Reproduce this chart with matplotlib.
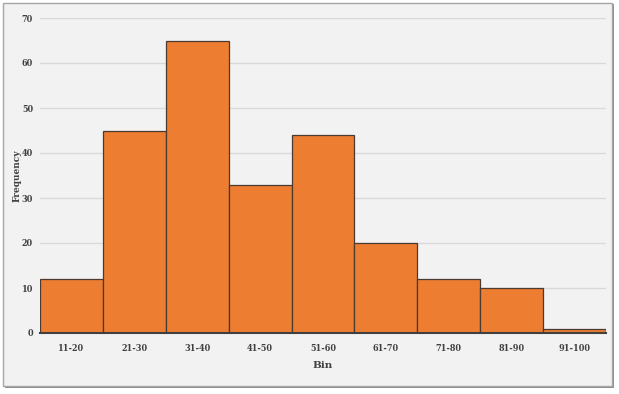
import matplotlib.pyplot as plt
from matplotlib.patches import Rectangle
import numpy as np

bins = ['11-20', '21-30', '31-40', '41-50', '51-60', '61-70', '71-80', '81-90', '91-100']
freq = [12, 45, 65, 33, 44, 20, 12, 10, 1]

W, H = 619, 394
fig = plt.figure(figsize=(W / 100, H / 100), dpi=100)
fig.patch.set_facecolor('white')

# chart frame with a little shadow on the right/bottom
fig.patches.append(Rectangle((5 / W, 1 - 388 / H), 609 / W, 384 / H, transform=fig.transFigure,
                             facecolor='#8c8c8c', edgecolor='none', zorder=-3))
fig.patches.append(Rectangle((3 / W, 1 - 386 / H), 609 / W, 383 / H, transform=fig.transFigure,
                             facecolor='#f2f2f2', edgecolor='#a6a6a6', linewidth=1, zorder=-2))

ax = fig.add_axes([40 / W, 1 - 333 / H, 566 / W, 315 / H])
ax.set_facecolor('none')

x = np.arange(len(bins))
ax.bar(x, freq, width=1.0, color='#ed7d31', edgecolor='#4a3a30', linewidth=0.9, zorder=3)

ax.set_xlim(-0.5, len(bins) - 0.5)
ax.set_ylim(0, 70)
ax.set_yticks(range(0, 71, 10))
ax.set_xticks(x)
ax.set_xticklabels(bins)

ax.grid(axis='y', color='#d9d9d9', linewidth=1, zorder=0)
for s in ['top', 'right', 'left']:
    ax.spines[s].set_visible(False)
ax.spines['bottom'].set_color('#404040')
ax.spines['bottom'].set_linewidth(1.5)
ax.spines['bottom'].set_zorder(4)
ax.tick_params(axis='x', length=0, pad=8, labelsize=6.5, labelcolor='#404040')
ax.tick_params(axis='y', length=0, pad=5, labelsize=6.5, labelcolor='#404040')
for lab in ax.get_xticklabels() + ax.get_yticklabels():
    lab.set_family('DejaVu Serif')
    lab.set_weight('bold')
    lab.set_stretch('condensed')

ax.set_xlabel('Bin', fontsize=7.5, fontweight='bold', family='DejaVu Serif', color='#404040', labelpad=6)
ax.set_ylabel('Frequency', fontsize=6.5, fontweight='bold', family='DejaVu Serif', color='#404040')
ax.yaxis.set_label_coords(-0.033, 0.5)

fig.savefig('out.png', dpi=100)
